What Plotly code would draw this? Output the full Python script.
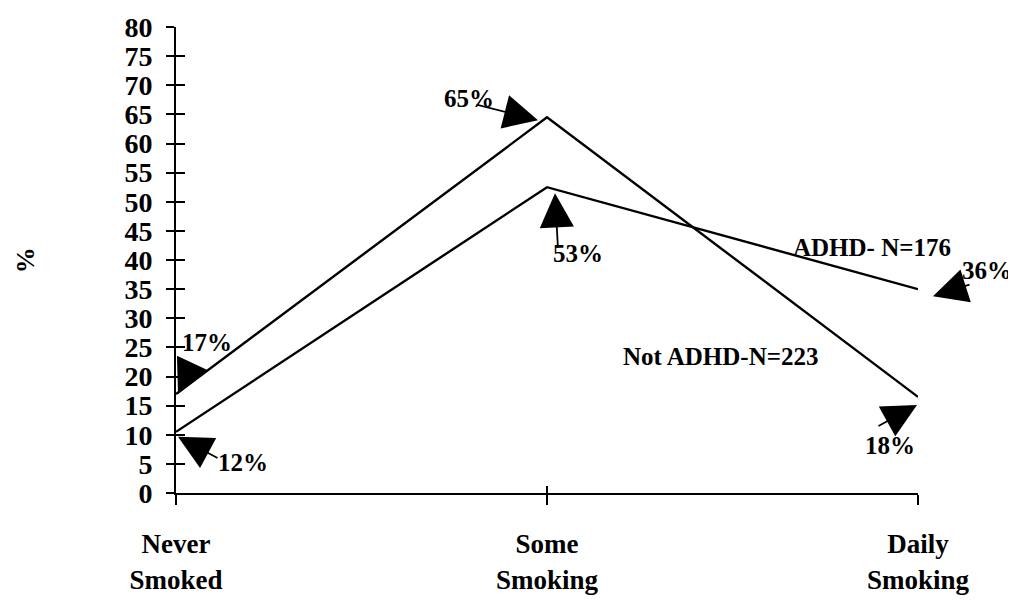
import plotly.graph_objects as go

categories = ["Never Smoked", "Some Smoking", "Daily Smoking"]
tick_labels = ["Never<br>Smoked", "Some<br>Smoking", "Daily<br>Smoking"]
not_adhd = [17, 64.5, 16.5]
adhd = [10.5, 52.5, 35]
not_adhd_labels = ["17%", "65%", "18%"]
adhd_labels = ["12%", "53%", "36%"]
series_names = ["Not ADHD-N=223", "ADHD- N=176"]
y_ticks = list(range(0, 85, 5))

FONT = "Liberation Serif"
xs = list(range(len(categories)))

fig = go.Figure()
fig.add_trace(go.Scatter(x=xs, y=not_adhd, mode="lines", name=series_names[0],
                         line=dict(color="black", width=2.4), hoverinfo="skip"))
fig.add_trace(go.Scatter(x=xs, y=adhd, mode="lines", name=series_names[1],
                         line=dict(color="black", width=2.4), hoverinfo="skip"))
# invisible helper trace so the overlay axes (crossing tick marks) get drawn
fig.add_trace(go.Scatter(x=xs, y=adhd, mode="lines", xaxis="x2", yaxis="y2",
                         line=dict(width=0), opacity=0, hoverinfo="skip", showlegend=False))

ann = []
# arrow annotations: (x index, value, xshift, yshift, ax, ay)
arrows = [
    (0, not_adhd[0], 2, 0, 14, -30),
    (1, not_adhd[1], -9, -3, -63, -16),
    (2, not_adhd[2], -1, -8, -40, 22),
    (0, adhd[0], 2, -5, 41, 22),
    (1, adhd[1], 8, -6, 3, 56),
    (2, adhd[2], 15, -7, 38, -12),
]
for xi, v, xsft, ysft, ax, ay in arrows:
    ann.append(dict(x=xi, y=v, xref="x", yref="y", text="", showarrow=True,
                    arrowhead=2, arrowsize=3.8, arrowwidth=1.8, arrowcolor="black",
                    ax=ax, ay=ay, xshift=xsft, yshift=ysft))
# value labels: (x index, value, text, xshift, yshift)
vlabels = [
    (0, not_adhd[0], not_adhd_labels[0], 31, 51),
    (1, not_adhd[1], not_adhd_labels[1], -78, 19),
    (2, not_adhd[2], not_adhd_labels[2], -28, -49),
    (0, adhd[0], adhd_labels[0], 67, -31),
    (1, adhd[1], adhd_labels[1], 31, -66),
    (2, adhd[2], adhd_labels[2], 69, 19),
]
for xi, v, t, xsft, ysft in vlabels:
    ann.append(dict(x=xi, y=v, xref="x", yref="y", text=t, showarrow=False,
                    xanchor="center", yanchor="middle", xshift=xsft, yshift=ysft,
                    font=dict(family=FONT, size=25, color="black", weight="bold")))
ann.append(dict(x=0.938, y=0.526, xref="paper", yref="paper", text=series_names[1],
                xanchor="center", yanchor="middle", showarrow=False,
                font=dict(family=FONT, size=25, color="black", weight="bold")))
ann.append(dict(x=0.7345, y=0.292, xref="paper", yref="paper", text=series_names[0],
                xanchor="center", yanchor="middle", showarrow=False,
                font=dict(family=FONT, size=25, color="black", weight="bold")))
ann.append(dict(x=-0.203, y=0.5, xref="paper", yref="paper", text="%", textangle=-90,
                xanchor="center", yanchor="middle", showarrow=False,
                font=dict(family=FONT, size=26, color="black", weight="bold")))

fig.update_layout(
    width=1016, height=603,
    margin=dict(l=168, r=106, t=19, b=118),
    paper_bgcolor="white", plot_bgcolor="white",
    showlegend=False,
    annotations=ann,
    xaxis=dict(range=[0, 2], tickvals=xs, ticktext=tick_labels, automargin=False,
               showgrid=False, zeroline=False, showline=True, linecolor="black", linewidth=2,
               ticks="outside", ticklen=10, tickwidth=1.5, tickcolor="black",
               ticklabelstandoff=16,
               tickfont=dict(family=FONT, size=27, color="black", weight="bold")),
    xaxis2=dict(range=[0, 2], overlaying="x", anchor="y2", tickvals=xs, showticklabels=False,
                showgrid=False, zeroline=False, showline=False, automargin=False,
                ticks="inside", ticklen=7, tickwidth=1.5, tickcolor="black"),
    yaxis=dict(range=[0, 80], tickvals=y_ticks, showgrid=False, zeroline=False, automargin=False,
               showline=True, linecolor="black", linewidth=2,
               ticks="outside", ticklen=8, tickwidth=1.5, tickcolor="black",
               ticklabelstandoff=8,
               tickfont=dict(family=FONT, size=28, color="black", weight="bold")),
    yaxis2=dict(range=[0, 80], overlaying="y", anchor="x2", tickvals=y_ticks, showticklabels=False,
                showgrid=False, zeroline=False, showline=False, automargin=False,
                ticks="inside", ticklen=9, tickwidth=1.5, tickcolor="black"),
)
fig.write_html("out.html")
